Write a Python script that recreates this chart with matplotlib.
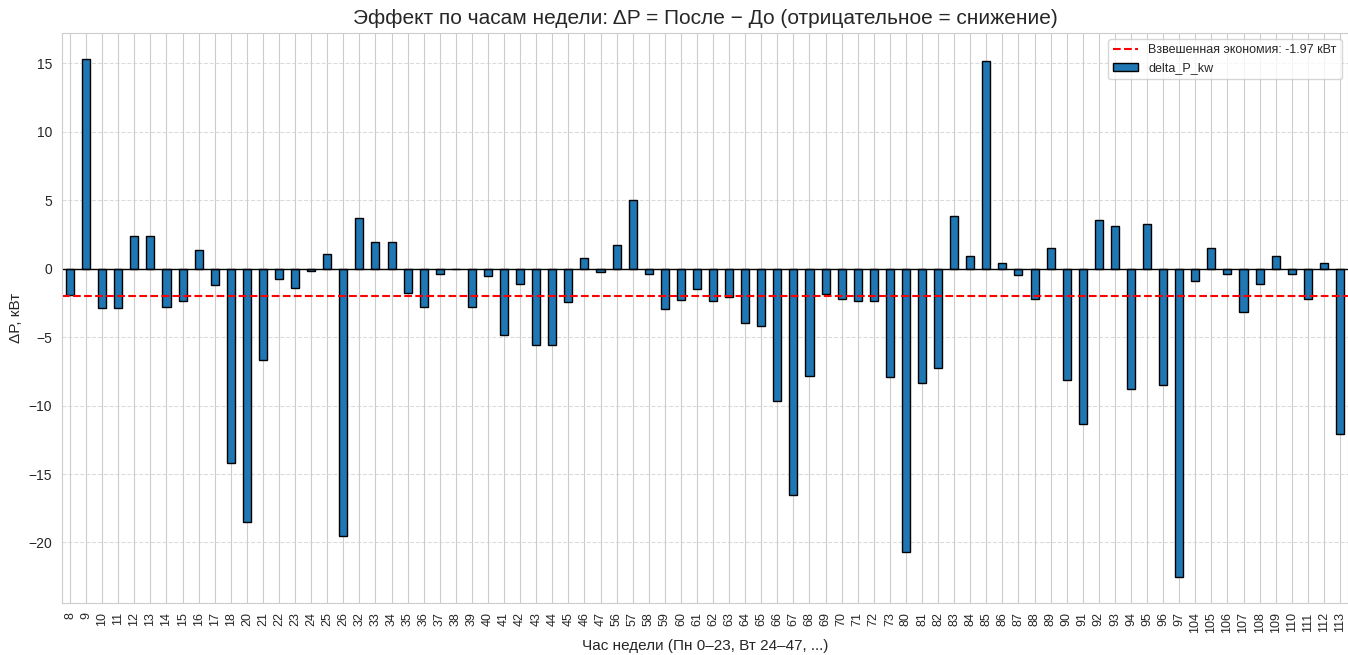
import numpy as np
import pandas as pd
import matplotlib
matplotlib.use("Agg")
import matplotlib.pyplot as plt
import seaborn as sns

sns.set_style("whitegrid")
plt.rcParams['font.family'] = ['Liberation Sans', 'DejaVu Sans']

# часы недели, для которых есть данные
hours = [8, 9, 10, 11, 12, 13, 14, 15, 16, 17, 18, 20, 21, 22, 23, 24, 25, 26,
         32, 33, 34, 35, 36, 37, 38, 39, 40, 41, 42, 43, 44, 45, 46, 47,
         56, 57, 58, 59, 60, 61, 62, 63, 64, 65, 66, 67, 68, 69, 70, 71, 72, 73,
         80, 81, 82, 83, 84, 85, 86, 87, 88, 89, 90, 91, 92, 93, 94, 95, 96, 97,
         104, 105, 106, 107, 108, 109, 110, 111, 112, 113]

delta_P_kw = [-1.9, 15.35, -2.85, -2.85, 2.4, 2.37, -2.78, -2.37, 1.34, -1.22,
              -14.2, -18.5, -6.7, -0.76, -1.44, -0.17, 1.05, -19.5,
              3.7, 1.98, 1.98, -1.78, -2.78, -0.41, -0.05, -2.8, -0.54, -4.83,
              -1.15, -5.59, -5.59, -2.46, 0.8, -0.22,
              1.73, 5.05, -0.37, -2.93, -2.29, -1.51, -2.39, -2.05, -4.0, -4.15,
              -9.63, -16.5, -7.85, -1.88, -2.24, -2.39, -2.39, -7.93,
              -20.7, -8.34, -7.24, 3.83, 0.93, 15.2, 0.39, -0.46, -2.24, 1.54,
              -8.12, -11.37, 3.56, 3.1, -8.8, 3.29, -8.51, -22.5,
              -0.88, 1.49, -0.41, -3.17, -1.1, 0.93, -0.41, -2.24, 0.39, -12.1]

weighted_saving = -1.97

s = pd.Series(delta_P_kw, index=hours, name="delta_P_kw")

fig, ax = plt.subplots(figsize=(13.48, 6.55), dpi=100)
fig.subplots_adjust(left=0.046, right=1.0, top=0.95, bottom=0.08)

s.plot(kind="bar", ax=ax, color="#1f77b4", edgecolor="black", linewidth=1)
ax.axhline(0, color="black", linewidth=1)
ax.axhline(weighted_saving, color="red", linestyle="--", linewidth=1.5,
           label=f"Взвешенная экономия: {weighted_saving:.2f} кВт")

ax.set_title("Эффект по часам недели: ΔP = После − До (отрицательное = снижение)",
             fontsize=15)
ax.set_xlabel("Час недели (Пн 0–23, Вт 24–47, ...)", fontsize=11)
ax.set_ylabel("ΔP, кВт", fontsize=11)
ax.grid(axis="y", linestyle="--", alpha=0.7)
ax.tick_params(axis="x", labelsize=9)
ax.tick_params(axis="y", labelsize=10)
ax.legend(loc="upper right", fontsize=9)

fig.savefig("out.png", dpi=100)
